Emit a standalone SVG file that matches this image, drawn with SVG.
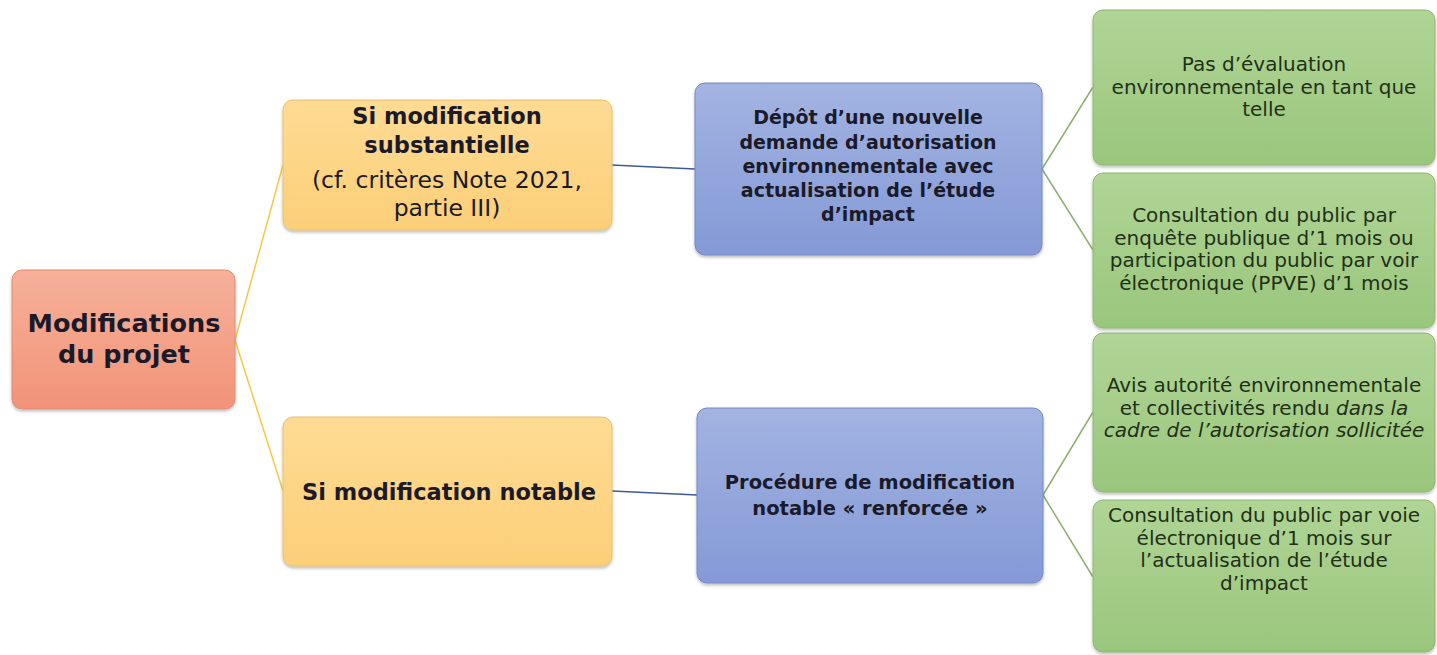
<svg xmlns="http://www.w3.org/2000/svg" width="1437" height="655" viewBox="0 0 1437 655">
<defs>
<linearGradient id="gRoot" x1="0" y1="0" x2="0" y2="1"><stop offset="0" stop-color="#f6b19a"/><stop offset="1" stop-color="#f19378"/></linearGradient>
<linearGradient id="gYel" x1="0" y1="0" x2="0" y2="1"><stop offset="0" stop-color="#fedb94"/><stop offset="1" stop-color="#fccf78"/></linearGradient>
<linearGradient id="gBlue" x1="0" y1="0" x2="0" y2="1"><stop offset="0" stop-color="#a3b4e2"/><stop offset="1" stop-color="#8499d6"/></linearGradient>
<linearGradient id="gGreen" x1="0" y1="0" x2="0" y2="1"><stop offset="0" stop-color="#b0d596"/><stop offset="1" stop-color="#9ac67c"/></linearGradient>
<filter id="sh" x="-5%" y="-5%" width="110%" height="115%"><feDropShadow dx="0" dy="2" stdDeviation="1.5" flood-color="#000" flood-opacity="0.25"/></filter>
</defs>
<style>
.box{filter:url(#sh);stroke-width:1}
.root{fill:url(#gRoot);stroke:#e48a70}
.yel{fill:url(#gYel);stroke:#e8c070}
.blue{fill:url(#gBlue);stroke:#7488c4}
.green{fill:url(#gGreen);stroke:#8db870}
.tb{font-family:"DejaVu Sans","Open Sans",sans-serif;font-weight:bold;fill:#1a1a2a;text-anchor:middle}
.tr{font-family:"DejaVu Sans","Open Sans",sans-serif;fill:#1a1a2a;text-anchor:middle}
.tg{font-family:"DejaVu Sans","Open Sans",sans-serif;fill:#223018;text-anchor:middle;font-size:20px}
.c1{stroke:#f2c84a;stroke-width:1.5;fill:none}
.c2{stroke:#3d5a9a;stroke-width:1.5;fill:none}
.c3{stroke:#8fae72;stroke-width:1.5;fill:none}
</style>
<rect width="1437" height="655" fill="#ffffff"/>
<g id="connectors">
<path class="c1" d="M235 340 L283 165"/>
<path class="c1" d="M235 340 L283 491"/>
<path class="c2" d="M612 165 L695 169"/>
<path class="c2" d="M612 491 L697 495"/>
<path class="c3" d="M1042 169 L1093 87"/>
<path class="c3" d="M1042 169 L1093 250"/>
<path class="c3" d="M1043 495 L1093 412"/>
<path class="c3" d="M1043 495 L1093 577"/>
</g>
<g id="root">
<rect class="box root" x="12" y="270" width="223" height="139" rx="10"/>
<text class="tb" x="124" y="332" font-size="25.5">Modifications</text>
<text class="tb" x="124" y="363" font-size="25.5">du projet</text>
</g>
<g id="yel-top">
<rect class="box yel" x="283" y="100" width="329" height="130" rx="10"/>
<text class="tb" x="447" y="124" font-size="22.5">Si modification</text>
<text class="tb" x="447" y="153" font-size="22.5">substantielle</text>
<text class="tr" x="447" y="188" font-size="23.5">(cf. critères Note 2021,</text>
<text class="tr" x="447" y="216" font-size="23.5">partie III)</text>
</g>
<g id="yel-bottom">
<rect class="box yel" x="283" y="417" width="329" height="149" rx="10"/>
<text class="tb" x="449" y="500" font-size="22.5">Si modification notable</text>
</g>
<g id="blue-top">
<rect class="box blue" x="695" y="83" width="347" height="172" rx="10"/>
<text class="tb" x="868" y="124" font-size="19">Dépôt d’une nouvelle</text>
<text class="tb" x="868" y="149" font-size="19">demande d’autorisation</text>
<text class="tb" x="868" y="173" font-size="19">environnementale avec</text>
<text class="tb" x="868" y="197" font-size="19">actualisation de l’étude</text>
<text class="tb" x="868" y="221" font-size="19">d’impact</text>
</g>
<g id="blue-bottom">
<rect class="box blue" x="697" y="408" width="346" height="175" rx="10"/>
<text class="tb" x="870" y="489" font-size="19.5">Procédure de modification</text>
<text class="tb" x="870" y="515" font-size="19.5">notable « renforcée »</text>
</g>
<g id="green-1">
<rect class="box green" x="1093" y="10" width="342" height="155" rx="10"/>
<text class="tg" x="1264" y="71">Pas d’évaluation</text>
<text class="tg" x="1264" y="93.5">environnementale en tant que</text>
<text class="tg" x="1264" y="116">telle</text>
</g>
<g id="green-2">
<rect class="box green" x="1093" y="173" width="342" height="155" rx="10"/>
<text class="tg" x="1264" y="222">Consultation du public par</text>
<text class="tg" x="1264" y="244.5">enquête publique d’1 mois ou</text>
<text class="tg" x="1264" y="267">participation du public par voir</text>
<text class="tg" x="1264" y="289.5">électronique (PPVE) d’1 mois</text>
</g>
<g id="green-3">
<rect class="box green" x="1093" y="333" width="342" height="159" rx="10"/>
<text class="tg" x="1264" y="392">Avis autorité environnementale</text>
<text class="tg" x="1264" y="414.5">et collectivités rendu <tspan font-style="italic">dans la</tspan></text>
<text class="tg" x="1264" y="437" font-style="italic">cadre de l’autorisation sollicitée</text>
</g>
<g id="green-4">
<rect class="box green" x="1093" y="500" width="342" height="152" rx="10"/>
<text class="tg" x="1264" y="522">Consultation du public par voie</text>
<text class="tg" x="1264" y="544.5">électronique d’1 mois sur</text>
<text class="tg" x="1264" y="567">l’actualisation de l’étude</text>
<text class="tg" x="1264" y="589.5">d’impact</text>
</g>
</svg>
